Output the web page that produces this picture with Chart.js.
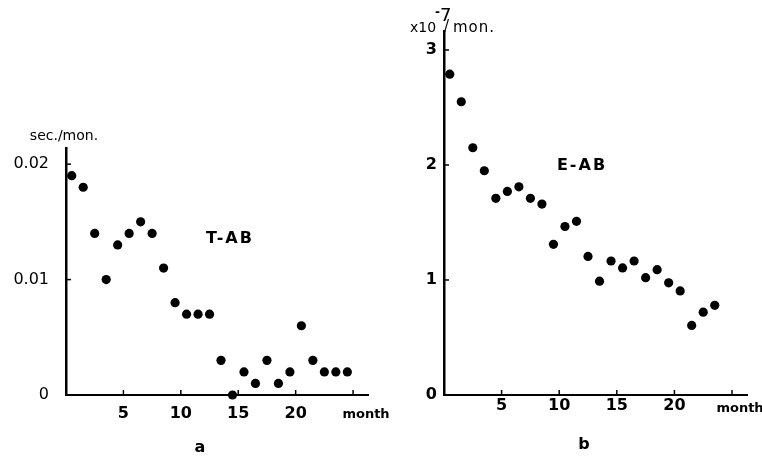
<!DOCTYPE html>
<html>
<head>
<meta charset="utf-8">
<script src="https://cdn.jsdelivr.net/npm/chart.js@4"></script>
<style>
  body { margin: 0; background: #fff; }
  #wrap { position: relative; width: 762px; height: 459px; }
  canvas { position: absolute; top: 0; }
</style>
</head>
<body>
<div id="wrap">
  <canvas id="chartA" width="392" height="459" style="left:0"></canvas>
  <canvas id="chartB" width="362" height="459" style="left:400px"></canvas>
</div>
<script>
// T-AB, sec./mon.
const monthsA = [0.5, 1.5, 2.5, 3.5, 4.5, 5.5, 6.5, 7.5, 8.5, 9.5, 10.5, 11.5, 12.5,
                 13.5, 14.5, 15.5, 16.5, 17.5, 18.5, 19.5, 20.5, 21.5, 22.5, 23.5, 24.5];
const rateA = [0.019, 0.018, 0.014, 0.010, 0.013, 0.014, 0.015, 0.014, 0.011, 0.008, 0.007, 0.007, 0.007,
               0.003, 0.000, 0.002, 0.001, 0.003, 0.001, 0.002, 0.006, 0.003, 0.002, 0.002, 0.002];

// E-AB, x10^-7 /mon.
const monthsB = [0.5, 1.5, 2.5, 3.5, 4.5, 5.5, 6.5, 7.5, 8.5, 9.5, 10.5, 11.5,
                 12.5, 13.5, 14.5, 15.5, 16.5, 17.5, 18.5, 19.5, 20.5, 21.5, 22.5, 23.5];
const rateB = [2.79, 2.55, 2.15, 1.95, 1.71, 1.77, 1.81, 1.71, 1.66, 1.31, 1.465, 1.51,
               1.205, 0.99, 1.165, 1.105, 1.165, 1.02, 1.09, 0.975, 0.905, 0.605, 0.72, 0.78];

const monthTicks = [5, 10, 15, 20, 25];
const ticksA = [0, 0.01, 0.02];
const ticksB = [0, 1, 2, 3];

const plainFont = { family: 'DejaVu Sans', size: 16 };
const boldFont = { family: 'DejaVu Sans', size: 16, weight: 'bold' };

// short tick marks pointing into the plot
const inwardTicks = {
  id: 'inwardTicks',
  afterDraw(chart) {
    const { ctx, scales: { x, y } } = chart;
    ctx.save();
    ctx.strokeStyle = '#000';
    ctx.lineWidth = 1.5;
    x.ticks.forEach(t => {
      const px = x.getPixelForValue(t.value);
      ctx.beginPath(); ctx.moveTo(px, x.top); ctx.lineTo(px, x.top - 5); ctx.stroke();
    });
    y.ticks.forEach(t => {
      if (t.value === 0) return;
      const py = y.getPixelForValue(t.value);
      ctx.beginPath(); ctx.moveTo(y.right, py); ctx.lineTo(y.right + 5, py); ctx.stroke();
    });
    ctx.restore();
  }
};

// free text: units, series name, axis name, panel letter
const captions = {
  id: 'captions',
  afterDraw(chart, args, opts) {
    const ctx = chart.ctx;
    ctx.save();
    ctx.fillStyle = '#000';
    ctx.textBaseline = 'middle';
    opts.items.forEach(it => {
      ctx.font = it.font;
      ctx.letterSpacing = it.spacing || '0px';
      ctx.textAlign = it.align || 'center';
      ctx.fillText(it.text, it.x, it.y);
    });
    ctx.restore();
  }
};

function makeChart(id, months, rate, cfg) {
  return new Chart(document.getElementById(id), {
    type: 'scatter',
    data: {
      datasets: [{
        data: months.map((m, i) => ({ x: m, y: rate[i] })),
        backgroundColor: '#000',
        borderWidth: 0,
        pointRadius: 4.6,
        pointHoverRadius: 4.6,
        clip: false
      }]
    },
    options: {
      responsive: false,
      animation: false,
      events: [],
      layout: { padding: cfg.padding },
      plugins: {
        legend: { display: false },
        tooltip: { enabled: false },
        captions: { items: cfg.captions }
      },
      scales: {
        x: {
          type: 'linear',
          min: 0,
          max: 26.3,
          afterBuildTicks: s => { s.ticks = monthTicks.map(v => ({ value: v })); },
          afterFit: s => { s.height = 30; },
          grid: { drawOnChartArea: false, drawTicks: false },
          border: { color: '#000', width: 2 },
          ticks: {
            color: '#000',
            font: boldFont,
            padding: cfg.xPad,
            maxRotation: 0,
            callback: v => (v === 25 ? '' : v)
          }
        },
        y: {
          min: 0,
          max: cfg.yMax,
          afterBuildTicks: s => { s.ticks = cfg.yTicks.map(v => ({ value: v })); },
          afterFit: s => { s.width = cfg.yWidth; },
          grid: { drawOnChartArea: false, drawTicks: false },
          border: { color: '#000', width: 2.5 },
          ticks: {
            color: '#000',
            font: cfg.yFont,
            padding: cfg.yPad,
            callback: v => String(v)
          }
        }
      }
    },
    plugins: [inwardTicks, captions]
  });
}

makeChart('chartA', monthsA, rateA, {
  padding: { left: 0, top: 148, right: 24, bottom: 34 },
  yMax: 0.0214,
  yTicks: ticksA,
  yWidth: 66,
  yPad: 17,
  yFont: plainFont,
  xPad: 9,
  captions: [
    { text: 'sec./mon.', x: 64, y: 136, font: '14px "DejaVu Sans"' },
    { text: 'T-AB', x: 230, y: 239, font: 'bold 16px "DejaVu Sans"', spacing: '2px' },
    { text: 'month', x: 366, y: 415, font: 'bold 13px "DejaVu Sans"' },
    { text: 'a', x: 200, y: 448, font: 'bold 16px "DejaVu Sans"' }
  ]
});

makeChart('chartB', monthsB, rateB, {
  padding: { left: 0, top: 31, right: 15, bottom: 34 },
  yMax: 3.165,
  yTicks: ticksB,
  yWidth: 44,
  yPad: 7,
  yFont: boldFont,
  xPad: 1,
  captions: [
    { text: 'x10', x: 10, y: 28, font: '14px "DejaVu Sans"', align: 'left' },
    { text: '-', x: 35, y: 13, font: 'bold 12px "DejaVu Sans"', align: 'left' },
    { text: '7', x: 40, y: 16, font: '18px "DejaVu Sans"', align: 'left' },
    { text: '/', x: 44, y: 27, font: '15px "DejaVu Sans"', align: 'left' },
    { text: 'mon.', x: 53, y: 28, font: '15px "DejaVu Sans"', align: 'left', spacing: '1px' },
    { text: 'E-AB', x: 182, y: 166, font: 'bold 16px "DejaVu Sans"', spacing: '2px' },
    { text: 'month', x: 340, y: 409, font: 'bold 13px "DejaVu Sans"' },
    { text: 'b', x: 184, y: 445, font: 'bold 16px "DejaVu Sans"' }
  ]
});
</script>
</body>
</html>
